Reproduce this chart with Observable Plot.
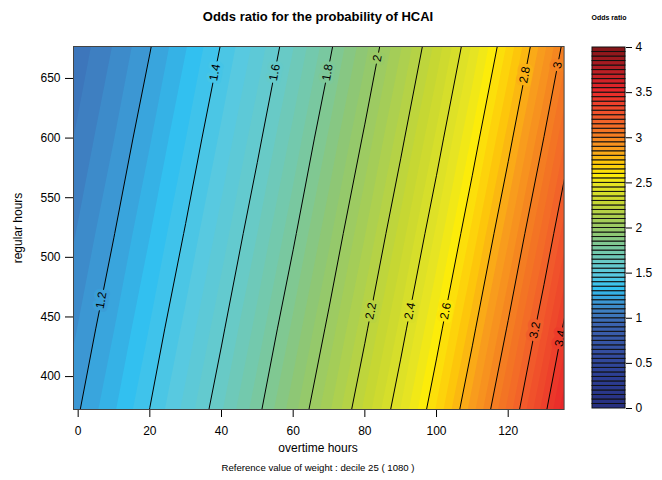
<!DOCTYPE html>
<html><head><meta charset="utf-8">
<script src="https://cdn.jsdelivr.net/npm/d3@7"></script>
<script src="https://cdn.jsdelivr.net/npm/@observablehq/plot@0.6"></script>
<style>
body{margin:0;background:#fff;font-family:"Liberation Sans",Arial,sans-serif}
#wrap{position:relative;width:662px;height:480px;background:#fff}
#wrap svg{position:absolute;top:0}
.t{position:absolute;white-space:nowrap;color:#000;line-height:1}
</style></head><body><div id="wrap"></div>
<script>
// ---- data ----
const overtimeGrid = [-10,0,10,20,30,40,50,60,70,80,90,100,110,120,130,140];
const regularGrid = [360,440,520,600,680];
const oddsRatio = [
 1.109,1.202,1.302,1.410,1.528,1.655,1.793,1.942,2.104,2.279,2.469,2.674,2.897,3.138,3.400,3.683,
 1.064,1.153,1.249,1.353,1.466,1.588,1.720,1.863,2.018,2.186,2.368,2.566,2.779,3.011,3.262,3.533,
 1.021,1.106,1.198,1.298,1.406,1.523,1.650,1.787,1.936,2.097,2.272,2.461,2.666,2.888,3.129,3.390,
 0.979,1.061,1.149,1.245,1.349,1.461,1.583,1.715,1.858,2.012,2.180,2.361,2.558,2.771,3.002,3.252,
 0.940,1.018,1.103,1.194,1.294,1.402,1.518,1.645,1.782,1.930,2.091,2.265,2.454,2.658,2.880,3.120
];
const lineLevels = [1.2,1.4,1.6,1.8,2,2.2,2.4,2.6,2.8,3,3.2,3.4];
const labelRegular = [464,655,655,655,667,455,455,455,653,661,439,432];
const xTicks = [0,20,40,60,80,100,120];
const yTicks = [400,450,500,550,600,650];
const legendTicks = [0,0.5,1,1.5,2,2.5,3,3.5,4];
const xDomain = [-1.3,135.6];
const yDomain = [372.4,676.8];
// palette
const colorStops = [0,0.3,0.6,0.9,1.05,1.15,1.3,1.45,1.6,1.75,1.9,2.05,2.25,2.45,2.55,2.7,2.85,3.0,3.2,3.5,3.75,4.0];
const colorRange = ["#27307f","#2c3d92","#344ea0","#3b63af","#3e7fc1","#3c97d3","#32c0f0","#58c9e0","#68cac6","#79c8a0","#8ec775","#a4cd58","#c6d733","#e6e423","#fcec0a","#fdc60b","#f89c1d","#f47d22","#f15a2b","#e8262a","#b01d24","#7a1416"];
const fillLevels = d3.range(80).map(i => +(i*0.05).toFixed(2));

// ---- grid helpers ----
const nx = overtimeGrid.length, ny = regularGrid.length;
const dx = overtimeGrid[1]-overtimeGrid[0], dy = regularGrid[1]-regularGrid[0];
const gx1 = overtimeGrid[0]-dx/2, gx2 = overtimeGrid[nx-1]+dx/2;
const gy1 = regularGrid[0]-dy/2, gy2 = regularGrid[ny-1]+dy/2;
function valueAt(x,y){
  let fi = (x-overtimeGrid[0])/dx, fj = (y-regularGrid[0])/dy;
  fi = Math.max(0,Math.min(nx-1.0001,fi)); fj = Math.max(0,Math.min(ny-1.0001,fj));
  const i = Math.floor(fi), j = Math.floor(fj), u = fi-i, v = fj-j;
  const g = (a,b) => oddsRatio[b*nx+a];
  return (1-u)*(1-v)*g(i,j)+u*(1-v)*g(i+1,j)+(1-u)*v*g(i,j+1)+u*v*g(i+1,j+1);
}
function solveX(level,y){
  let lo = overtimeGrid[0], hi = overtimeGrid[nx-1];
  for(let k=0;k<50;k++){const m=(lo+hi)/2; if(valueAt(m,y)<level) lo=m; else hi=m;}
  return (lo+hi)/2;
}
const labels = lineLevels.map((L,i)=>({level:L, y:labelRegular[i], x:solveX(L,labelRegular[i]), text:String(L)}));

const colorScale = {type:"linear", domain: colorStops, range: colorRange, clamp:true};
const font = {fontFamily:"Liberation Sans, Arial, sans-serif", fontSize:"12px", color:"#000", background:"transparent"};
const grid = {width: nx, height: ny, x1: gx1, x2: gx2, y1: gy1, y2: gy2, clip: true};

const main = Plot.plot({
  width: 590, height: 480,
  marginLeft: 73, marginRight: 26.4, marginTop: 46, marginBottom: 71,
  style: font,
  x: {domain: xDomain, ticks: xTicks, tickSize: 8, tickPadding: 9, label: null},
  y: {domain: yDomain, ticks: yTicks, tickSize: 8, tickPadding: 5, label: null},
  color: colorScale,
  marks: [
    Plot.contour(oddsRatio, {...grid, value: Plot.identity, thresholds: fillLevels, fill: "value", stroke: "none"}),
    Plot.contour(oddsRatio, {...grid, value: Plot.identity, thresholds: lineLevels, fill: "none", stroke: "#000", strokeWidth: 1}),
    Plot.text(labels, {x:"x", y:"y", text:"text", rotate:-79, fill:"#000", stroke: d=>d.level - 0.025,
      strokeWidth: 7, strokeLinejoin:"round", paintOrder:"stroke", fontSize: 12, clip: true}),
    Plot.frame({stroke:"#444", strokeWidth:1})
  ]
});

const legendBands = fillLevels.map(t => ({lo:t, hi:+(t+0.05).toFixed(2)}));
const legend = Plot.plot({
  width: 72, height: 480,
  marginLeft: 2, marginRight: 37, marginTop: 47, marginBottom: 72,
  style: font,
  x: {domain:[0,1], axis:null},
  y: {domain:[0,4], axis:"right", ticks: legendTicks, tickSize: 6, tickPadding: 4, tickFormat: d=>String(d), label:null},
  color: colorScale,
  marks: [
    Plot.rect(legendBands, {x1:0, x2:1, y1:"lo", y2:"hi", fill:"lo", stroke:"#111", strokeWidth:1})
  ]
});

const wrap = document.getElementById("wrap");
main.style.left = "0px";
legend.style.left = "590px";
wrap.appendChild(main);
wrap.appendChild(legend);
function addText(txt, css){const d=document.createElement("div"); d.className="t"; d.textContent=txt; Object.assign(d.style, css); wrap.appendChild(d); return d;}
addText("Odds ratio for the probability of HCAI", {left:"0px", width:"636px", textAlign:"center", top:"10px", fontSize:"13px", fontWeight:"bold"});
addText("Odds ratio", {left:"570px", width:"78px", textAlign:"center", top:"14px", fontSize:"7px", fontWeight:"bold"});
addText("overtime hours", {left:"0px", width:"636px", textAlign:"center", top:"442px", fontSize:"12px"});
addText("Reference value of weight : decile 25 ( 1080 )", {left:"0px", width:"636px", textAlign:"center", top:"463px", fontSize:"9.6px"});
addText("regular hours", {left:"-32px", width:"100px", textAlign:"center", top:"222px", fontSize:"12px", transform:"rotate(-90deg)"});
</script></body></html>
